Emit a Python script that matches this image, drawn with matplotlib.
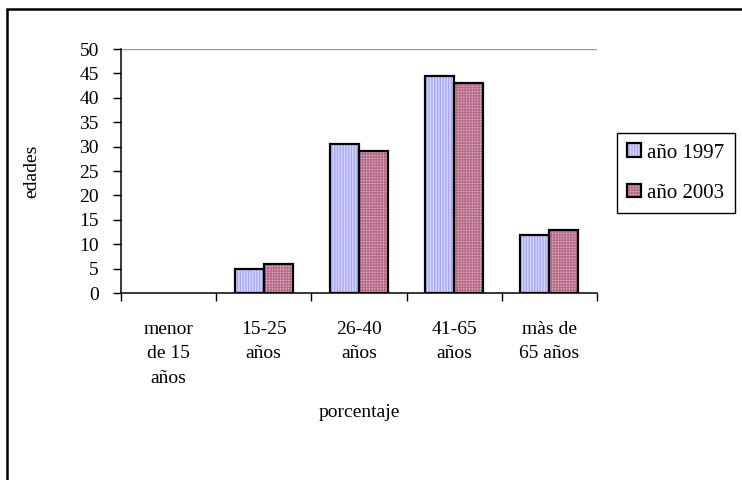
import matplotlib.pyplot as plt
import numpy as np
from matplotlib.patches import Rectangle, Patch

categorias = ["menor\nde 15\naños", "15-25\naños", "26-40\naños", "41-65\naños", "màs de\n65 años"]
valores_1997 = [0, 5, 30.5, 44.5, 11.8]
valores_2003 = [0, 6, 29, 43, 13]
series = ["año 1997", "año 2003"]

plt.rcParams["font.family"] = ["Liberation Serif", "DejaVu Serif"]
plt.rcParams["hatch.linewidth"] = 1.0

fig = plt.figure(figsize=(7.42, 4.8), dpi=100)
ax = fig.add_axes([121 / 742, 1 - 293 / 480, 476 / 742, 244 / 480])

x = np.arange(len(categorias))
w = 0.305

estilo_1997 = dict(color="#d6d6ff", edgecolor="#a8a8f4", hatch="||||||")
estilo_2003 = dict(color="#e2bccb", edgecolor="#b86c8c", hatch="++++++")

ax.bar(x - w / 2, valores_1997, w, linewidth=0, zorder=2, **estilo_1997)
e1 = ax.bar(x - w / 2, valores_1997, w, fill=False, edgecolor="black", linewidth=1.6, zorder=3)
ax.bar(x + w / 2, valores_2003, w, linewidth=0, zorder=2, **estilo_2003)
e2 = ax.bar(x + w / 2, valores_2003, w, fill=False, edgecolor="black", linewidth=1.6, zorder=3)

# empty bars leave no outline on the axis
for cont, vals in ((e1, valores_1997), (e2, valores_2003)):
    for p, v in zip(cont, vals):
        if v == 0:
            p.set_linewidth(0)

ax.set_xlim(-0.5, len(categorias) - 0.5)
ax.set_ylim(0, 50)
ax.set_yticks(np.arange(0, 51, 5))
ax.tick_params(axis="y", labelsize=14, length=6, width=1, direction="out", pad=10)

ax.set_xticks(x)
ax.set_xticklabels(categorias, fontsize=14, linespacing=1.58, va="top")
ax.set_xticks(np.arange(-0.5, len(categorias)), minor=True)
ax.tick_params(axis="x", which="major", length=0, pad=20)
ax.tick_params(axis="x", which="minor", length=6, width=1, direction="out")

ax.spines["top"].set_visible(False)
ax.spines["right"].set_visible(False)
ax.spines["left"].set_linewidth(1.1)
ax.spines["bottom"].set_linewidth(1.1)
ax.axhline(50, color="#999999", linewidth=1, zorder=1)

ax.set_ylabel("edades", fontsize=14, labelpad=28)
ax.set_xlabel("porcentaje", fontsize=14, labelpad=12)

handles = []
for est in (estilo_1997, estilo_2003):
    relleno = Patch(facecolor=est["color"], edgecolor=est["edgecolor"], hatch=est["hatch"], linewidth=0)
    borde = Patch(fill=False, edgecolor="black", linewidth=1.6)
    handles.append((relleno, borde))

leg = fig.legend(handles, series,
                 loc="upper left", bbox_to_anchor=(617 / 742, 1 - 133 / 480),
                 fontsize=15, frameon=True, fancybox=False, framealpha=1,
                 edgecolor="black", handlelength=0.65, handleheight=0.65,
                 handletextpad=0.3, labelspacing=1.0, borderpad=0.5,
                 borderaxespad=0)
leg.get_frame().set_linewidth(1.0)

fig.patches.append(Rectangle((7 / 742, -0.1), 1.1, 1.1 - 9 / 480, transform=fig.transFigure,
                             fill=False, edgecolor="black", linewidth=1.8))

fig.savefig("out.png", dpi=100)
